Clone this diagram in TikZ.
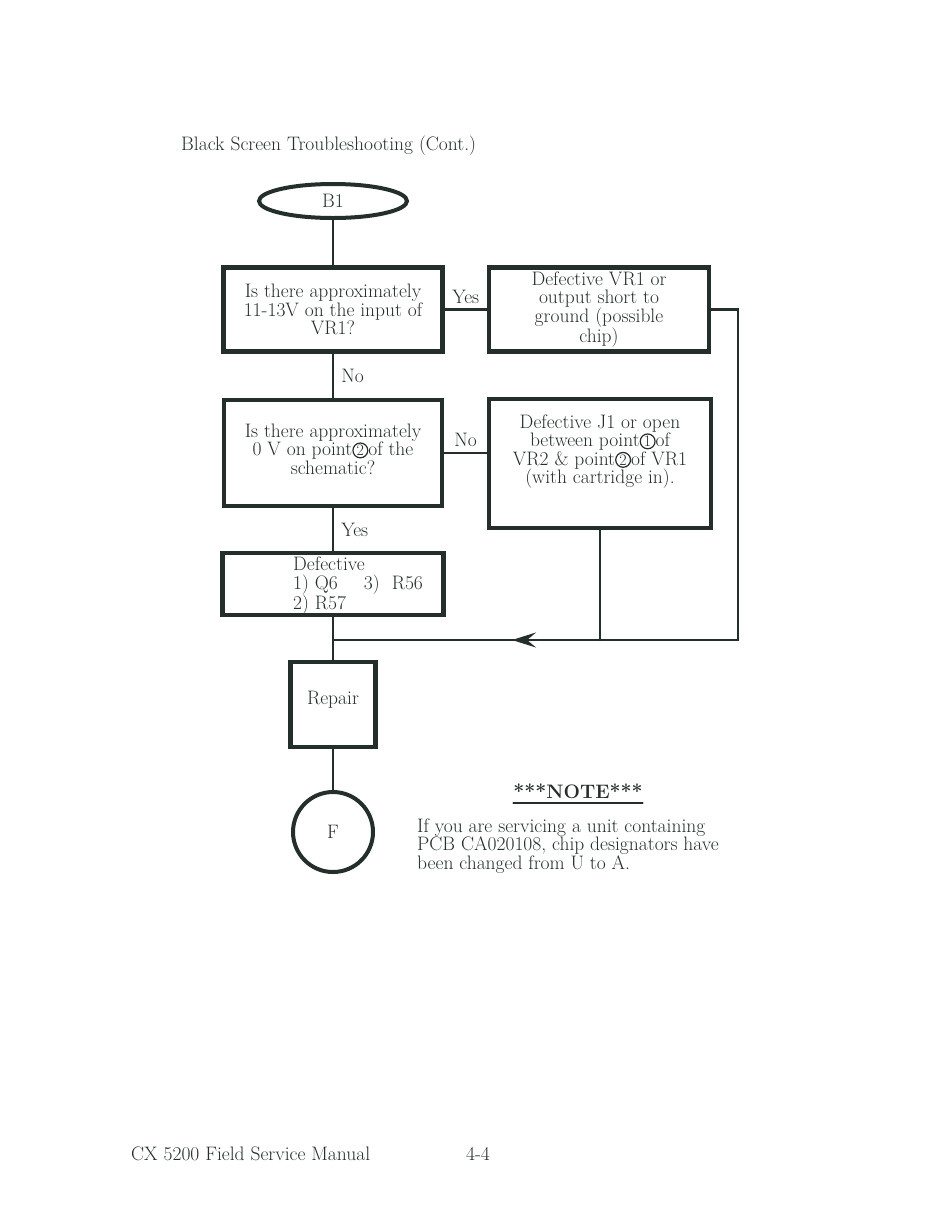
\documentclass[tikz,border=0pt]{standalone}
\usetikzlibrary{arrows.meta,positioning,shapes.geometric}
\definecolor{ink}{RGB}{36,46,42}
\newcommand{\txtfont}{\fontsize{19.5}{18.5}\selectfont}
\newcommand{\cnum}[1]{\tikz[baseline=(cn.base)]\node[draw=ink,circle,inner sep=0.7pt,minimum size=0pt,line width=1.2pt,font=\fontsize{16}{16}\selectfont] (cn) {#1};}
\begin{document}
\begin{tikzpicture}[x=1pt,y=-1pt,line cap=round,>=Stealth,color=ink,
	box/.style={draw,line width=4.5pt,align=center,font=\txtfont,inner sep=0pt},
	link/.style={line width=2.5pt},
	lbl/.style={font=\txtfont,inner sep=3pt}]
	\useasboundingbox (0,0) rectangle (950,1227);
	% heading
	\node[font=\txtfont,anchor=west,inner sep=0pt] (head) at (181,146) {Black Screen Troubleshooting (Cont.)};
	% flow column
	\node[draw,ellipse,line width=4pt,minimum width=148pt,minimum height=34pt,font=\txtfont] (b1) at (333,201) {B1};
	\node[box,minimum width=219pt,minimum height=84pt] (q1) at (333,309.5) {Is there approximately\\11-13V on the input of\\VR1?};
	\node[box,minimum width=220pt,minimum height=84pt] (d1) at (599,309.5) {Defective VR1 or\\output short to\\ground (possible\\chip)};
	\node[box,minimum width=218pt,minimum height=106pt] (q2) at (333,453) {};
	\node[font=\txtfont,align=center] (q2t) at ([yshift=4pt]q2.center) {Is there approximately\\0 V on point\cnum{2}of the\\schematic?};
	\node[box,minimum width=222pt,minimum height=129pt] (d2) at (600,463.5) {};
	\node[font=\txtfont,align=center] (d2t) at ([yshift=12pt]d2.center) {Defective J1 or open\\between point\cnum{1}of\\VR2 \& point\cnum{2}of VR1\\(with cartridge in).};
	\node[box,minimum width=221pt,minimum height=62pt] (d3) at (333,584) {};
	\node[font=\txtfont,align=left,anchor=west,inner sep=0pt] (d3t) at (293,586) {Defective\\1) Q6\hspace{26pt}3)\hspace{12pt}R56\\2) R57};
	\node[box,minimum width=85pt,minimum height=85pt] (rp) at (333,704.5) {};
	\node[font=\txtfont] (rpt) at ([yshift=5pt]rp.center) {Repair};
	\node[draw,circle,line width=4pt,minimum size=80pt,font=\txtfont] (fin) at (333,832) {F};
	% connectors
	\draw[link] (b1.south) -- (q1.north);
	\draw[link] (q1.east) -- node[lbl,above=2pt] {Yes} (d1.west);
	\draw[link] (q1.south) -- node[lbl,right=4pt] {No} (q2.north);
	\draw[link] (q2.east) -- node[lbl,above=2pt] {No} (q2.east -| d2.west);
	\draw[link] (q2.south) -- node[lbl,right=4pt] {Yes} (d3.north);
	\coordinate (jn) at (333,640);
	\coordinate (rt) at (738,640);
	\coordinate (tip) at (512,640);
	\draw[link] (d3.south) -- (rp.north);
	\draw[link] (d1.east) -| (rt) -- (jn);
	\draw[link] (d2.south) -- (d2.south |- jn);
	\draw[link,-{Stealth[length=24pt,width=15pt,inset=9pt]}] (rt) -- (tip);
	\draw[link] (rp.south) -- (fin.north);
	% note
	\node[font=\txtfont\bfseries,inner sep=0pt] (nt) at (578,791) {***NOTE***};
	\draw[line width=1.5pt] ([yshift=-5pt]nt.base west) -- ([yshift=-5pt]nt.base east);
	\node[font=\txtfont,align=left,anchor=west,inner sep=0pt] (ntx) at (417,846) {If you are servicing a unit containing\\PCB CA020108, chip designators have\\been changed from U to A.};
	% footer
	\node[font=\txtfont,anchor=west,inner sep=0pt] (foot) at (131,1154) {CX 5200 Field Service Manual};
	\node[font=\txtfont] (pg) at (478,1154) {4-4};
\end{tikzpicture}
\end{document}
